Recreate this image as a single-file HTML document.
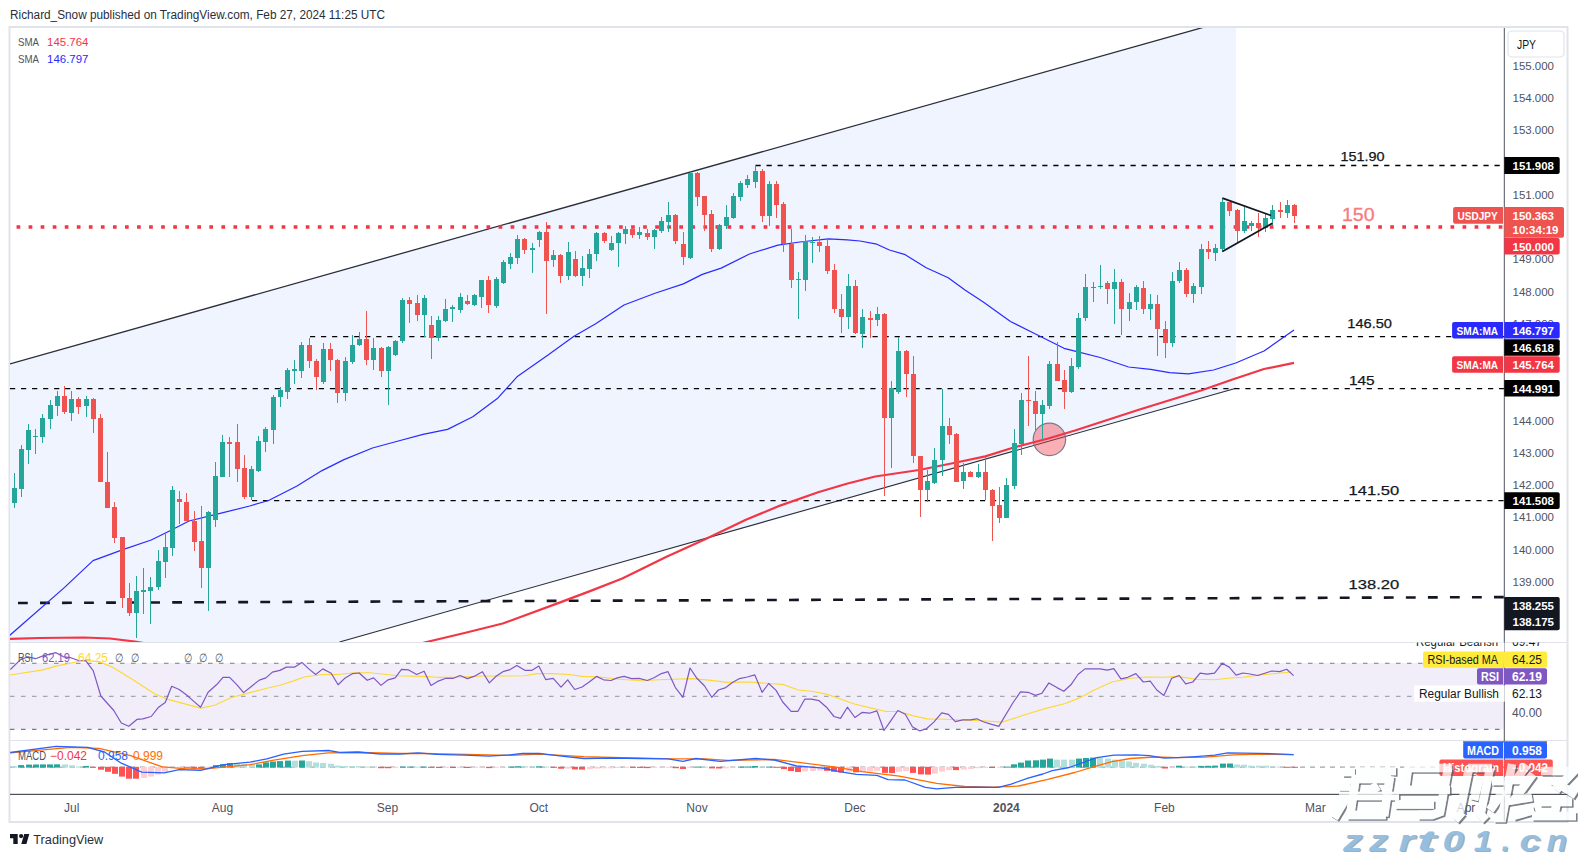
<!DOCTYPE html>
<html><head><meta charset="utf-8"><title>USDJPY chart</title>
<style>
html,body{margin:0;padding:0;background:#ffffff;width:1578px;height:857px;overflow:hidden}
svg{position:absolute;left:0;top:0;display:block}
text{font-family:"Liberation Sans", sans-serif}
</style></head><body>
<svg width="1578" height="857" viewBox="0 0 1578 857">
<defs>
<clipPath id="mainclip"><rect x="10" y="28" width="1494" height="614"/></clipPath>
<clipPath id="rsiclip"><rect x="10" y="643" width="1494" height="97"/></clipPath>
<clipPath id="macdclip"><rect x="10" y="741" width="1494" height="53"/></clipPath>
</defs>

<text x="10" y="18.7" font-size="12" fill="#2a2e39" text-anchor="start" font-weight="normal" textLength="375" lengthAdjust="spacingAndGlyphs" >Richard_Snow published on TradingView.com, Feb 27, 2024 11:25 UTC</text>
<rect x="9.5" y="27" width="1558" height="795" fill="none" stroke="#e0e3eb" stroke-width="2"/>
<g clip-path="url(#mainclip)">
<polygon points="10.0,363.9 1204.6,27.0 1236.0,27.0 1236.0,388.2 339.5,642.0 10.0,642.0" fill="#f0f4fe"/>
<line x1="10" y1="363.9" x2="1204.6" y2="27" stroke="#2a2e39" stroke-width="1.3"/>
<line x1="339.5" y1="642" x2="1236" y2="388.2" stroke="#2a2e39" stroke-width="1.1"/>
<line x1="755.5" y1="165.5" x2="1504" y2="165.5" stroke="#000" stroke-width="1.3" stroke-dasharray="5.2 5.83"/>
<line x1="310" y1="336.5" x2="1504" y2="336.5" stroke="#000" stroke-width="1.25" stroke-dasharray="5.2 5.83"/>
<line x1="10" y1="388.5" x2="1504" y2="388.5" stroke="#000" stroke-width="1.25" stroke-dasharray="5.2 5.83"/>
<line x1="252" y1="500.5" x2="1504" y2="500.5" stroke="#000" stroke-width="1.25" stroke-dasharray="5.2 5.83"/>
<line x1="18" y1="603" x2="1504" y2="597.1" stroke="#131722" stroke-width="2.6" stroke-dasharray="9.8 12.23"/>
<line x1="4.5" y1="227" x2="1504" y2="227" stroke="#f23645" stroke-width="3.7" stroke-dasharray="3.7 8.35"/>
<circle cx="1049.4" cy="439.4" r="16.2" fill="#f23645" fill-opacity="0.4" stroke="#787b86" stroke-width="1.2"/>
<polyline points="9.0,639.0 40.0,638.0 84.0,637.5 110.0,638.5 135.0,641.5 160.0,646.0 300.0,665.0 400.0,649.0 426.5,642.0 465.5,632.7 502.7,623.5 559.5,602.6 590.0,591.1 622.3,578.4 666.0,556.9 704.1,539.8 745.9,519.8 780.1,505.6 818.1,492.3 846.7,483.7 875.2,476.5 919.0,470.0 953.8,463.0 985.3,456.4 1013.6,447.5 1048.3,438.5 1075.0,430.5 1105.0,420.7 1138.0,410.0 1201.0,390.5 1232.5,379.5 1264.0,369.0 1294.0,362.8" fill="none" stroke="#f23645" stroke-width="2.2" stroke-linejoin="round"/>
<polyline points="9.0,636.0 64.6,587.4 93.0,560.6 122.9,549.6 151.2,540.0 170.0,530.7 189.0,521.0 215.0,514.7 249.7,506.0 268.6,500.5 297.0,486.0 322.0,470.6 344.0,459.6 372.5,448.0 394.6,442.0 423.0,434.4 447.6,429.4 472.8,416.8 498.0,397.9 517.0,376.8 548.4,354.7 573.6,336.4 595.7,323.8 624.0,305.0 655.0,293.3 683.4,283.9 702.3,274.4 721.2,268.1 749.5,254.0 777.9,245.1 800.0,242.0 828.3,238.8 847.2,239.8 860.0,241.0 876.8,244.2 889.4,250.0 905.2,254.7 926.2,267.8 935.6,272.0 948.2,277.8 965.0,289.9 984.0,302.5 1000.0,314.0 1010.5,321.5 1032.5,332.5 1064.0,348.3 1075.0,351.2 1100.2,357.5 1128.6,367.0 1150.6,369.4 1169.5,372.6 1188.4,373.8 1213.6,370.0 1235.7,363.0 1264.0,351.0 1294.0,330.0" fill="none" stroke="#2a2aff" stroke-width="1.2" stroke-linejoin="round"/>
<rect x="14" y="473.0" width="1" height="35.0" fill="#26a69a"/><rect x="12" y="488.0" width="5" height="15.0" fill="#26a69a"/>
<rect x="21" y="445.0" width="1" height="52.0" fill="#26a69a"/><rect x="19" y="449.0" width="5" height="40.0" fill="#26a69a"/>
<rect x="28" y="424.0" width="1" height="40.0" fill="#26a69a"/><rect x="26" y="430.0" width="5" height="20.0" fill="#26a69a"/>
<rect x="35" y="429.0" width="1" height="25.0" fill="#26a69a"/><rect x="33" y="436.0" width="5" height="1.0" fill="#26a69a"/>
<rect x="42" y="414.0" width="1" height="29.0" fill="#26a69a"/><rect x="40" y="418.0" width="5" height="19.0" fill="#26a69a"/>
<rect x="50" y="400.0" width="1" height="29.0" fill="#26a69a"/><rect x="48" y="405.0" width="5" height="14.0" fill="#26a69a"/>
<rect x="57" y="391.0" width="1" height="25.0" fill="#26a69a"/><rect x="55" y="396.0" width="5" height="10.0" fill="#26a69a"/>
<rect x="64" y="386.0" width="1" height="28.0" fill="#ef5350"/><rect x="62" y="396.0" width="5" height="16.0" fill="#ef5350"/>
<rect x="71" y="391.0" width="1" height="30.0" fill="#26a69a"/><rect x="69" y="399.0" width="5" height="14.0" fill="#26a69a"/>
<rect x="78" y="397.0" width="1" height="17.0" fill="#ef5350"/><rect x="76" y="399.0" width="5" height="8.0" fill="#ef5350"/>
<rect x="86" y="396.0" width="1" height="21.0" fill="#26a69a"/><rect x="84" y="399.0" width="5" height="7.0" fill="#26a69a"/>
<rect x="93" y="398.0" width="1" height="35.0" fill="#ef5350"/><rect x="91" y="399.0" width="5" height="20.0" fill="#ef5350"/>
<rect x="100" y="414.0" width="1" height="68.0" fill="#ef5350"/><rect x="98" y="418.0" width="5" height="64.0" fill="#ef5350"/>
<rect x="107" y="452.0" width="1" height="56.0" fill="#ef5350"/><rect x="105" y="482.0" width="5" height="26.0" fill="#ef5350"/>
<rect x="114" y="502.0" width="1" height="41.0" fill="#ef5350"/><rect x="112" y="507.0" width="5" height="31.0" fill="#ef5350"/>
<rect x="122" y="537.0" width="1" height="71.0" fill="#ef5350"/><rect x="120" y="537.0" width="5" height="61.0" fill="#ef5350"/>
<rect x="129" y="583.0" width="1" height="33.0" fill="#ef5350"/><rect x="127" y="598.0" width="5" height="15.0" fill="#ef5350"/>
<rect x="136" y="576.0" width="1" height="62.0" fill="#26a69a"/><rect x="134" y="591.0" width="5" height="22.0" fill="#26a69a"/>
<rect x="143" y="568.0" width="1" height="46.0" fill="#26a69a"/><rect x="141" y="590.0" width="5" height="2.0" fill="#26a69a"/>
<rect x="150" y="577.0" width="1" height="47.0" fill="#26a69a"/><rect x="148" y="587.0" width="5" height="4.0" fill="#26a69a"/>
<rect x="158" y="550.0" width="1" height="40.0" fill="#26a69a"/><rect x="156" y="561.0" width="5" height="26.0" fill="#26a69a"/>
<rect x="165" y="534.0" width="1" height="44.0" fill="#26a69a"/><rect x="163" y="547.0" width="5" height="15.0" fill="#26a69a"/>
<rect x="172" y="486.0" width="1" height="70.0" fill="#26a69a"/><rect x="170" y="490.0" width="5" height="58.0" fill="#26a69a"/>
<rect x="179" y="491.0" width="1" height="33.0" fill="#ef5350"/><rect x="177" y="499.0" width="5" height="3.0" fill="#ef5350"/>
<rect x="186" y="493.0" width="1" height="28.0" fill="#ef5350"/><rect x="184" y="502.0" width="5" height="19.0" fill="#ef5350"/>
<rect x="194" y="511.0" width="1" height="40.0" fill="#ef5350"/><rect x="192" y="521.0" width="5" height="21.0" fill="#ef5350"/>
<rect x="201" y="506.0" width="1" height="82.0" fill="#ef5350"/><rect x="199" y="541.0" width="5" height="27.0" fill="#ef5350"/>
<rect x="208" y="511.0" width="1" height="100.0" fill="#26a69a"/><rect x="206" y="512.0" width="5" height="56.0" fill="#26a69a"/>
<rect x="215" y="462.0" width="1" height="65.0" fill="#26a69a"/><rect x="213" y="476.0" width="5" height="44.0" fill="#26a69a"/>
<rect x="222" y="435.0" width="1" height="42.0" fill="#26a69a"/><rect x="220" y="442.0" width="5" height="35.0" fill="#26a69a"/>
<rect x="229" y="437.0" width="1" height="40.0" fill="#ef5350"/><rect x="227" y="442.0" width="5" height="2.0" fill="#ef5350"/>
<rect x="237" y="424.0" width="1" height="58.0" fill="#ef5350"/><rect x="235" y="442.0" width="5" height="27.0" fill="#ef5350"/>
<rect x="244" y="455.0" width="1" height="44.0" fill="#ef5350"/><rect x="242" y="468.0" width="5" height="29.0" fill="#ef5350"/>
<rect x="251" y="466.0" width="1" height="34.0" fill="#26a69a"/><rect x="249" y="469.0" width="5" height="28.0" fill="#26a69a"/>
<rect x="258" y="436.0" width="1" height="36.0" fill="#26a69a"/><rect x="256" y="441.0" width="5" height="30.0" fill="#26a69a"/>
<rect x="265" y="427.0" width="1" height="25.0" fill="#26a69a"/><rect x="263" y="429.0" width="5" height="13.0" fill="#26a69a"/>
<rect x="273" y="395.0" width="1" height="49.0" fill="#26a69a"/><rect x="271" y="397.0" width="5" height="33.0" fill="#26a69a"/>
<rect x="280" y="387.0" width="1" height="20.0" fill="#26a69a"/><rect x="278" y="390.0" width="5" height="7.0" fill="#26a69a"/>
<rect x="287" y="368.0" width="1" height="31.0" fill="#26a69a"/><rect x="285" y="370.0" width="5" height="22.0" fill="#26a69a"/>
<rect x="294" y="360.0" width="1" height="24.0" fill="#26a69a"/><rect x="292" y="369.0" width="5" height="2.0" fill="#26a69a"/>
<rect x="301" y="342.0" width="1" height="36.0" fill="#26a69a"/><rect x="299" y="345.0" width="5" height="26.0" fill="#26a69a"/>
<rect x="309" y="338.0" width="1" height="30.0" fill="#ef5350"/><rect x="307" y="345.0" width="5" height="16.0" fill="#ef5350"/>
<rect x="316" y="359.0" width="1" height="31.0" fill="#ef5350"/><rect x="314" y="361.0" width="5" height="16.0" fill="#ef5350"/>
<rect x="323" y="343.0" width="1" height="41.0" fill="#26a69a"/><rect x="321" y="349.0" width="5" height="33.0" fill="#26a69a"/>
<rect x="330" y="343.0" width="1" height="28.0" fill="#ef5350"/><rect x="328" y="349.0" width="5" height="11.0" fill="#ef5350"/>
<rect x="337" y="359.0" width="1" height="44.0" fill="#ef5350"/><rect x="335" y="360.0" width="5" height="33.0" fill="#ef5350"/>
<rect x="345" y="357.0" width="1" height="44.0" fill="#26a69a"/><rect x="343" y="361.0" width="5" height="32.0" fill="#26a69a"/>
<rect x="352" y="335.0" width="1" height="29.0" fill="#26a69a"/><rect x="350" y="345.0" width="5" height="17.0" fill="#26a69a"/>
<rect x="359" y="332.0" width="1" height="14.0" fill="#26a69a"/><rect x="357" y="339.0" width="5" height="6.0" fill="#26a69a"/>
<rect x="366" y="311.0" width="1" height="54.0" fill="#ef5350"/><rect x="364" y="339.0" width="5" height="21.0" fill="#ef5350"/>
<rect x="373" y="338.0" width="1" height="32.0" fill="#26a69a"/><rect x="371" y="348.0" width="5" height="12.0" fill="#26a69a"/>
<rect x="381" y="347.0" width="1" height="30.0" fill="#ef5350"/><rect x="379" y="348.0" width="5" height="23.0" fill="#ef5350"/>
<rect x="388" y="346.0" width="1" height="59.0" fill="#26a69a"/><rect x="386" y="347.0" width="5" height="24.0" fill="#26a69a"/>
<rect x="395" y="340.0" width="1" height="16.0" fill="#26a69a"/><rect x="393" y="341.0" width="5" height="14.0" fill="#26a69a"/>
<rect x="402" y="298.0" width="1" height="45.0" fill="#26a69a"/><rect x="400" y="300.0" width="5" height="41.0" fill="#26a69a"/>
<rect x="409" y="297.0" width="1" height="26.0" fill="#ef5350"/><rect x="407" y="300.0" width="5" height="4.0" fill="#ef5350"/>
<rect x="417" y="295.0" width="1" height="26.0" fill="#ef5350"/><rect x="415" y="303.0" width="5" height="12.0" fill="#ef5350"/>
<rect x="424" y="295.0" width="1" height="42.0" fill="#26a69a"/><rect x="422" y="298.0" width="5" height="17.0" fill="#26a69a"/>
<rect x="431" y="316.0" width="1" height="43.0" fill="#ef5350"/><rect x="429" y="325.0" width="5" height="13.0" fill="#ef5350"/>
<rect x="438" y="316.0" width="1" height="25.0" fill="#26a69a"/><rect x="436" y="320.0" width="5" height="18.0" fill="#26a69a"/>
<rect x="445" y="299.0" width="1" height="23.0" fill="#26a69a"/><rect x="443" y="309.0" width="5" height="12.0" fill="#26a69a"/>
<rect x="452" y="305.0" width="1" height="17.0" fill="#26a69a"/><rect x="450" y="307.0" width="5" height="2.0" fill="#26a69a"/>
<rect x="460" y="293.0" width="1" height="20.0" fill="#26a69a"/><rect x="458" y="297.0" width="5" height="13.0" fill="#26a69a"/>
<rect x="467" y="295.0" width="1" height="10.0" fill="#ef5350"/><rect x="465" y="301.0" width="5" height="3.0" fill="#ef5350"/>
<rect x="474" y="294.0" width="1" height="12.0" fill="#26a69a"/><rect x="472" y="295.0" width="5" height="10.0" fill="#26a69a"/>
<rect x="481" y="280.0" width="1" height="28.0" fill="#26a69a"/><rect x="479" y="280.0" width="5" height="17.0" fill="#26a69a"/>
<rect x="488" y="276.0" width="1" height="37.0" fill="#ef5350"/><rect x="486" y="280.0" width="5" height="25.0" fill="#ef5350"/>
<rect x="496" y="277.0" width="1" height="31.0" fill="#26a69a"/><rect x="494" y="279.0" width="5" height="27.0" fill="#26a69a"/>
<rect x="503" y="260.0" width="1" height="24.0" fill="#26a69a"/><rect x="501" y="262.0" width="5" height="21.0" fill="#26a69a"/>
<rect x="510" y="253.0" width="1" height="16.0" fill="#26a69a"/><rect x="508" y="257.0" width="5" height="7.0" fill="#26a69a"/>
<rect x="517" y="235.0" width="1" height="29.0" fill="#26a69a"/><rect x="515" y="239.0" width="5" height="19.0" fill="#26a69a"/>
<rect x="524" y="238.0" width="1" height="16.0" fill="#ef5350"/><rect x="522" y="239.0" width="5" height="11.0" fill="#ef5350"/>
<rect x="532" y="243.0" width="1" height="30.0" fill="#26a69a"/><rect x="530" y="248.0" width="5" height="2.0" fill="#26a69a"/>
<rect x="539" y="231.0" width="1" height="16.0" fill="#26a69a"/><rect x="537" y="232.0" width="5" height="8.0" fill="#26a69a"/>
<rect x="546" y="222.0" width="1" height="92.0" fill="#ef5350"/><rect x="544" y="232.0" width="5" height="29.0" fill="#ef5350"/>
<rect x="553" y="250.0" width="1" height="17.0" fill="#26a69a"/><rect x="551" y="255.0" width="5" height="5.0" fill="#26a69a"/>
<rect x="560" y="254.0" width="1" height="29.0" fill="#ef5350"/><rect x="558" y="255.0" width="5" height="21.0" fill="#ef5350"/>
<rect x="568" y="242.0" width="1" height="38.0" fill="#26a69a"/><rect x="566" y="252.0" width="5" height="24.0" fill="#26a69a"/>
<rect x="575" y="251.0" width="1" height="26.0" fill="#ef5350"/><rect x="573" y="259.0" width="5" height="17.0" fill="#ef5350"/>
<rect x="582" y="256.0" width="1" height="30.0" fill="#26a69a"/><rect x="580" y="268.0" width="5" height="8.0" fill="#26a69a"/>
<rect x="589" y="249.0" width="1" height="29.0" fill="#26a69a"/><rect x="587" y="254.0" width="5" height="15.0" fill="#26a69a"/>
<rect x="596" y="232.0" width="1" height="29.0" fill="#26a69a"/><rect x="594" y="233.0" width="5" height="21.0" fill="#26a69a"/>
<rect x="604" y="232.0" width="1" height="11.0" fill="#ef5350"/><rect x="602" y="233.0" width="5" height="8.0" fill="#ef5350"/>
<rect x="611" y="236.0" width="1" height="15.0" fill="#26a69a"/><rect x="609" y="243.0" width="5" height="7.0" fill="#26a69a"/>
<rect x="618" y="232.0" width="1" height="35.0" fill="#26a69a"/><rect x="616" y="233.0" width="5" height="10.0" fill="#26a69a"/>
<rect x="625" y="226.0" width="1" height="18.0" fill="#26a69a"/><rect x="623" y="229.0" width="5" height="5.0" fill="#26a69a"/>
<rect x="632" y="228.0" width="1" height="10.0" fill="#ef5350"/><rect x="630" y="229.0" width="5" height="6.0" fill="#ef5350"/>
<rect x="639" y="227.0" width="1" height="12.0" fill="#26a69a"/><rect x="637" y="232.0" width="5" height="3.0" fill="#26a69a"/>
<rect x="647" y="229.0" width="1" height="11.0" fill="#ef5350"/><rect x="645" y="233.0" width="5" height="4.0" fill="#ef5350"/>
<rect x="654" y="229.0" width="1" height="20.0" fill="#26a69a"/><rect x="652" y="230.0" width="5" height="7.0" fill="#26a69a"/>
<rect x="661" y="217.0" width="1" height="16.0" fill="#26a69a"/><rect x="659" y="221.0" width="5" height="10.0" fill="#26a69a"/>
<rect x="668" y="202.0" width="1" height="30.0" fill="#26a69a"/><rect x="666" y="215.0" width="5" height="7.0" fill="#26a69a"/>
<rect x="675" y="214.0" width="1" height="30.0" fill="#ef5350"/><rect x="673" y="215.0" width="5" height="26.0" fill="#ef5350"/>
<rect x="683" y="232.0" width="1" height="33.0" fill="#ef5350"/><rect x="681" y="244.0" width="5" height="13.0" fill="#ef5350"/>
<rect x="690" y="172.0" width="1" height="87.0" fill="#26a69a"/><rect x="688" y="173.0" width="5" height="85.0" fill="#26a69a"/>
<rect x="697" y="172.0" width="1" height="34.0" fill="#ef5350"/><rect x="695" y="173.0" width="5" height="24.0" fill="#ef5350"/>
<rect x="704" y="196.0" width="1" height="35.0" fill="#ef5350"/><rect x="702" y="196.0" width="5" height="19.0" fill="#ef5350"/>
<rect x="711" y="210.0" width="1" height="42.0" fill="#ef5350"/><rect x="709" y="214.0" width="5" height="35.0" fill="#ef5350"/>
<rect x="719" y="224.0" width="1" height="26.0" fill="#26a69a"/><rect x="717" y="225.0" width="5" height="24.0" fill="#26a69a"/>
<rect x="726" y="205.0" width="1" height="24.0" fill="#26a69a"/><rect x="724" y="217.0" width="5" height="9.0" fill="#26a69a"/>
<rect x="733" y="193.0" width="1" height="26.0" fill="#26a69a"/><rect x="731" y="196.0" width="5" height="22.0" fill="#26a69a"/>
<rect x="740" y="181.0" width="1" height="20.0" fill="#26a69a"/><rect x="738" y="183.0" width="5" height="14.0" fill="#26a69a"/>
<rect x="747" y="175.0" width="1" height="13.0" fill="#26a69a"/><rect x="745" y="179.0" width="5" height="6.0" fill="#26a69a"/>
<rect x="755" y="165.0" width="1" height="23.0" fill="#26a69a"/><rect x="753" y="171.0" width="5" height="11.0" fill="#26a69a"/>
<rect x="762" y="169.0" width="1" height="53.0" fill="#ef5350"/><rect x="760" y="171.0" width="5" height="45.0" fill="#ef5350"/>
<rect x="769" y="181.0" width="1" height="45.0" fill="#26a69a"/><rect x="767" y="184.0" width="5" height="32.0" fill="#26a69a"/>
<rect x="776" y="181.0" width="1" height="37.0" fill="#ef5350"/><rect x="774" y="184.0" width="5" height="21.0" fill="#ef5350"/>
<rect x="783" y="202.0" width="1" height="50.0" fill="#ef5350"/><rect x="781" y="204.0" width="5" height="40.0" fill="#ef5350"/>
<rect x="791" y="229.0" width="1" height="59.0" fill="#ef5350"/><rect x="789" y="244.0" width="5" height="36.0" fill="#ef5350"/>
<rect x="798" y="272.0" width="1" height="47.0" fill="#26a69a"/><rect x="796" y="279.0" width="5" height="1.0" fill="#26a69a"/>
<rect x="805" y="235.0" width="1" height="56.0" fill="#26a69a"/><rect x="803" y="241.0" width="5" height="39.0" fill="#26a69a"/>
<rect x="812" y="237.0" width="1" height="26.0" fill="#26a69a"/><rect x="810" y="242.0" width="5" height="1.0" fill="#26a69a"/>
<rect x="819" y="236.0" width="1" height="16.0" fill="#ef5350"/><rect x="817" y="242.0" width="5" height="4.0" fill="#ef5350"/>
<rect x="827" y="238.0" width="1" height="36.0" fill="#ef5350"/><rect x="825" y="246.0" width="5" height="25.0" fill="#ef5350"/>
<rect x="834" y="264.0" width="1" height="49.0" fill="#ef5350"/><rect x="832" y="270.0" width="5" height="39.0" fill="#ef5350"/>
<rect x="841" y="294.0" width="1" height="39.0" fill="#ef5350"/><rect x="839" y="309.0" width="5" height="8.0" fill="#ef5350"/>
<rect x="848" y="274.0" width="1" height="55.0" fill="#26a69a"/><rect x="846" y="286.0" width="5" height="31.0" fill="#26a69a"/>
<rect x="855" y="280.0" width="1" height="54.0" fill="#ef5350"/><rect x="853" y="286.0" width="5" height="47.0" fill="#ef5350"/>
<rect x="862" y="309.0" width="1" height="39.0" fill="#26a69a"/><rect x="860" y="317.0" width="5" height="17.0" fill="#26a69a"/>
<rect x="870" y="311.0" width="1" height="27.0" fill="#ef5350"/><rect x="868" y="318.0" width="5" height="2.0" fill="#ef5350"/>
<rect x="877" y="307.0" width="1" height="19.0" fill="#26a69a"/><rect x="875" y="314.0" width="5" height="6.0" fill="#26a69a"/>
<rect x="884" y="313.0" width="1" height="183.0" fill="#ef5350"/><rect x="882" y="314.0" width="5" height="104.0" fill="#ef5350"/>
<rect x="891" y="381.0" width="1" height="87.0" fill="#26a69a"/><rect x="889" y="388.0" width="5" height="30.0" fill="#26a69a"/>
<rect x="898" y="337.0" width="1" height="57.0" fill="#26a69a"/><rect x="896" y="351.0" width="5" height="41.0" fill="#26a69a"/>
<rect x="906" y="350.0" width="1" height="47.0" fill="#ef5350"/><rect x="904" y="351.0" width="5" height="23.0" fill="#ef5350"/>
<rect x="913" y="356.0" width="1" height="107.0" fill="#ef5350"/><rect x="911" y="374.0" width="5" height="82.0" fill="#ef5350"/>
<rect x="920" y="456.0" width="1" height="61.0" fill="#ef5350"/><rect x="918" y="456.0" width="5" height="34.0" fill="#ef5350"/>
<rect x="927" y="470.0" width="1" height="32.0" fill="#26a69a"/><rect x="925" y="481.0" width="5" height="9.0" fill="#26a69a"/>
<rect x="934" y="448.0" width="1" height="36.0" fill="#26a69a"/><rect x="932" y="460.0" width="5" height="23.0" fill="#26a69a"/>
<rect x="942" y="389.0" width="1" height="87.0" fill="#26a69a"/><rect x="940" y="426.0" width="5" height="34.0" fill="#26a69a"/>
<rect x="949" y="418.0" width="1" height="26.0" fill="#ef5350"/><rect x="947" y="426.0" width="5" height="9.0" fill="#ef5350"/>
<rect x="956" y="433.0" width="1" height="49.0" fill="#ef5350"/><rect x="954" y="434.0" width="5" height="48.0" fill="#ef5350"/>
<rect x="963" y="463.0" width="1" height="26.0" fill="#26a69a"/><rect x="961" y="472.0" width="5" height="9.0" fill="#26a69a"/>
<rect x="970" y="471.0" width="1" height="6.0" fill="#ef5350"/><rect x="968" y="472.0" width="5" height="5.0" fill="#ef5350"/>
<rect x="978" y="464.0" width="1" height="14.0" fill="#26a69a"/><rect x="976" y="472.0" width="5" height="5.0" fill="#26a69a"/>
<rect x="985" y="457.0" width="1" height="43.0" fill="#ef5350"/><rect x="983" y="472.0" width="5" height="18.0" fill="#ef5350"/>
<rect x="992" y="489.0" width="1" height="52.0" fill="#ef5350"/><rect x="990" y="490.0" width="5" height="16.0" fill="#ef5350"/>
<rect x="999" y="487.0" width="1" height="36.0" fill="#ef5350"/><rect x="997" y="505.0" width="5" height="13.0" fill="#ef5350"/>
<rect x="1006" y="478.0" width="1" height="40.0" fill="#26a69a"/><rect x="1004" y="485.0" width="5" height="33.0" fill="#26a69a"/>
<rect x="1014" y="429.0" width="1" height="60.0" fill="#26a69a"/><rect x="1012" y="443.0" width="5" height="43.0" fill="#26a69a"/>
<rect x="1021" y="393.0" width="1" height="62.0" fill="#26a69a"/><rect x="1019" y="400.0" width="5" height="44.0" fill="#26a69a"/>
<rect x="1028" y="356.0" width="1" height="70.0" fill="#ef5350"/><rect x="1026" y="400.0" width="5" height="1.0" fill="#ef5350"/>
<rect x="1035" y="391.0" width="1" height="40.0" fill="#ef5350"/><rect x="1033" y="401.0" width="5" height="13.0" fill="#ef5350"/>
<rect x="1042" y="400.0" width="1" height="40.0" fill="#26a69a"/><rect x="1040" y="405.0" width="5" height="9.0" fill="#26a69a"/>
<rect x="1049" y="361.0" width="1" height="48.0" fill="#26a69a"/><rect x="1047" y="364.0" width="5" height="42.0" fill="#26a69a"/>
<rect x="1057" y="342.0" width="1" height="39.0" fill="#ef5350"/><rect x="1055" y="364.0" width="5" height="17.0" fill="#ef5350"/>
<rect x="1064" y="370.0" width="1" height="39.0" fill="#ef5350"/><rect x="1062" y="380.0" width="5" height="12.0" fill="#ef5350"/>
<rect x="1071" y="358.0" width="1" height="35.0" fill="#26a69a"/><rect x="1069" y="366.0" width="5" height="26.0" fill="#26a69a"/>
<rect x="1078" y="313.0" width="1" height="56.0" fill="#26a69a"/><rect x="1076" y="318.0" width="5" height="49.0" fill="#26a69a"/>
<rect x="1085" y="274.0" width="1" height="47.0" fill="#26a69a"/><rect x="1083" y="287.0" width="5" height="31.0" fill="#26a69a"/>
<rect x="1093" y="282.0" width="1" height="20.0" fill="#26a69a"/><rect x="1091" y="287.0" width="5" height="1.0" fill="#26a69a"/>
<rect x="1100" y="265.0" width="1" height="24.0" fill="#26a69a"/><rect x="1098" y="286.0" width="5" height="1.0" fill="#26a69a"/>
<rect x="1107" y="281.0" width="1" height="23.0" fill="#ef5350"/><rect x="1105" y="283.0" width="5" height="6.0" fill="#ef5350"/>
<rect x="1114" y="269.0" width="1" height="55.0" fill="#26a69a"/><rect x="1112" y="282.0" width="5" height="7.0" fill="#26a69a"/>
<rect x="1121" y="279.0" width="1" height="56.0" fill="#ef5350"/><rect x="1119" y="282.0" width="5" height="27.0" fill="#ef5350"/>
<rect x="1129" y="293.0" width="1" height="28.0" fill="#26a69a"/><rect x="1127" y="302.0" width="5" height="7.0" fill="#26a69a"/>
<rect x="1136" y="285.0" width="1" height="25.0" fill="#26a69a"/><rect x="1134" y="287.0" width="5" height="15.0" fill="#26a69a"/>
<rect x="1143" y="281.0" width="1" height="33.0" fill="#ef5350"/><rect x="1141" y="288.0" width="5" height="21.0" fill="#ef5350"/>
<rect x="1150" y="294.0" width="1" height="26.0" fill="#26a69a"/><rect x="1148" y="304.0" width="5" height="5.0" fill="#26a69a"/>
<rect x="1157" y="295.0" width="1" height="61.0" fill="#ef5350"/><rect x="1155" y="304.0" width="5" height="25.0" fill="#ef5350"/>
<rect x="1165" y="321.0" width="1" height="37.0" fill="#ef5350"/><rect x="1163" y="329.0" width="5" height="14.0" fill="#ef5350"/>
<rect x="1172" y="272.0" width="1" height="75.0" fill="#26a69a"/><rect x="1170" y="281.0" width="5" height="62.0" fill="#26a69a"/>
<rect x="1179" y="262.0" width="1" height="21.0" fill="#26a69a"/><rect x="1177" y="270.0" width="5" height="11.0" fill="#26a69a"/>
<rect x="1186" y="268.0" width="1" height="29.0" fill="#ef5350"/><rect x="1184" y="270.0" width="5" height="24.0" fill="#ef5350"/>
<rect x="1193" y="283.0" width="1" height="20.0" fill="#26a69a"/><rect x="1191" y="286.0" width="5" height="8.0" fill="#26a69a"/>
<rect x="1201" y="244.0" width="1" height="50.0" fill="#26a69a"/><rect x="1199" y="249.0" width="5" height="38.0" fill="#26a69a"/>
<rect x="1208" y="241.0" width="1" height="18.0" fill="#ef5350"/><rect x="1206" y="249.0" width="5" height="3.0" fill="#ef5350"/>
<rect x="1215" y="244.0" width="1" height="17.0" fill="#26a69a"/><rect x="1213" y="248.0" width="5" height="5.0" fill="#26a69a"/>
<rect x="1222" y="198.0" width="1" height="54.0" fill="#26a69a"/><rect x="1220" y="202.0" width="5" height="47.0" fill="#26a69a"/>
<rect x="1229" y="202.0" width="1" height="14.0" fill="#ef5350"/><rect x="1227" y="202.0" width="5" height="9.0" fill="#ef5350"/>
<rect x="1237" y="209.0" width="1" height="34.0" fill="#ef5350"/><rect x="1235" y="210.0" width="5" height="21.0" fill="#ef5350"/>
<rect x="1244" y="206.0" width="1" height="27.0" fill="#26a69a"/><rect x="1242" y="221.0" width="5" height="10.0" fill="#26a69a"/>
<rect x="1251" y="221.0" width="1" height="10.0" fill="#26a69a"/><rect x="1249" y="223.0" width="5" height="3.0" fill="#26a69a"/>
<rect x="1258" y="213.0" width="1" height="24.0" fill="#ef5350"/><rect x="1256" y="223.0" width="5" height="5.0" fill="#ef5350"/>
<rect x="1265" y="214.0" width="1" height="18.0" fill="#26a69a"/><rect x="1263" y="218.0" width="5" height="10.0" fill="#26a69a"/>
<rect x="1272" y="205.0" width="1" height="21.0" fill="#26a69a"/><rect x="1270" y="210.0" width="5" height="9.0" fill="#26a69a"/>
<rect x="1280" y="202.0" width="1" height="16.0" fill="#ef5350"/><rect x="1278" y="210.0" width="5" height="2.0" fill="#ef5350"/>
<rect x="1287" y="200.0" width="1" height="18.0" fill="#26a69a"/><rect x="1285" y="205.0" width="5" height="8.0" fill="#26a69a"/>
<rect x="1294" y="204.0" width="1" height="19.0" fill="#ef5350"/><rect x="1292" y="205.0" width="5" height="11.0" fill="#ef5350"/>
<line x1="1222.4" y1="198.1" x2="1271" y2="215.5" stroke="#131722" stroke-width="1.8"/>
<line x1="1222.4" y1="251.5" x2="1272.4" y2="223.3" stroke="#131722" stroke-width="1.8"/>
</g>
<text x="1340.5" y="160.5" font-size="12.5" fill="#131722" text-anchor="start" font-weight="normal" textLength="44.1" lengthAdjust="spacingAndGlyphs" stroke="#131722" stroke-width="0.25">151.90</text>
<text x="1342" y="220.7" font-size="19" fill="#f77c80" text-anchor="start" font-weight="normal" textLength="32.6" lengthAdjust="spacingAndGlyphs" stroke="#f77c80" stroke-width="0.35">150</text>
<text x="1347.3" y="327.9" font-size="12.5" fill="#131722" text-anchor="start" font-weight="normal" textLength="44.7" lengthAdjust="spacingAndGlyphs" stroke="#131722" stroke-width="0.25">146.50</text>
<text x="1348.9" y="384.6" font-size="13.5" fill="#131722" text-anchor="start" font-weight="normal" textLength="25.7" lengthAdjust="spacingAndGlyphs" stroke="#131722" stroke-width="0.25">145</text>
<text x="1348.6" y="494.5" font-size="13.5" fill="#131722" text-anchor="start" font-weight="normal" textLength="50.6" lengthAdjust="spacingAndGlyphs" stroke="#131722" stroke-width="0.25">141.50</text>
<text x="1348.6" y="589.3" font-size="13.5" fill="#131722" text-anchor="start" font-weight="normal" textLength="50.6" lengthAdjust="spacingAndGlyphs" stroke="#131722" stroke-width="0.25">138.20</text>
<text x="18" y="45.5" font-size="11.5" fill="#50535e" text-anchor="start" font-weight="normal" textLength="21" lengthAdjust="spacingAndGlyphs" >SMA</text>
<text x="47" y="45.5" font-size="11.5" fill="#f23645" text-anchor="start" font-weight="normal" textLength="41.5" lengthAdjust="spacingAndGlyphs" >145.764</text>
<text x="18" y="62.5" font-size="11.5" fill="#50535e" text-anchor="start" font-weight="normal" textLength="21" lengthAdjust="spacingAndGlyphs" >SMA</text>
<text x="47" y="62.5" font-size="11.5" fill="#2a2aff" text-anchor="start" font-weight="normal" textLength="41.5" lengthAdjust="spacingAndGlyphs" >146.797</text>
<rect x="10" y="642" width="1558" height="1" fill="#e0e3eb"/>
<rect x="10" y="740" width="1558" height="1" fill="#e0e3eb"/>
<g clip-path="url(#rsiclip)">
<rect x="10" y="663" width="1494" height="66.3" fill="#f1eefa"/>
<line x1="10" y1="663.2" x2="1504" y2="663.2" stroke="#787b86" stroke-width="1.15" stroke-dasharray="4.5 6.5"/>
<line x1="10" y1="696.4" x2="1504" y2="696.4" stroke="#a3a6af" stroke-width="1.3" stroke-dasharray="4.5 6.5"/>
<line x1="10" y1="729.3" x2="1504" y2="729.3" stroke="#787b86" stroke-width="1.15" stroke-dasharray="4.5 6.5"/>
<polyline points="10.3,675.0 43.0,669.9 56.0,666.1 78.4,661.5 87.7,660.2 100.8,662.4 112.0,667.0 130.6,678.3 155.0,694.0 168.0,699.4 186.6,704.4 200.6,708.1 214.6,705.3 231.4,697.5 250.0,692.6 266.8,688.2 279.9,685.2 292.9,681.1 304.1,677.0 322.8,674.5 337.7,674.5 354.5,672.7 369.4,672.7 384.4,674.2 397.4,675.8 423.6,676.4 436.6,677.3 455.3,677.3 483.3,676.0 510.0,676.0 524.3,675.8 537.3,673.6 552.3,673.6 569.0,674.5 582.1,676.4 597.0,676.8 619.4,679.2 641.8,680.7 658.6,679.8 673.6,679.2 692.2,678.6 709.0,680.1 727.7,682.4 750.0,682.0 768.7,683.5 782.7,684.4 798.5,690.0 811.6,691.3 826.5,694.1 839.6,698.8 854.5,704.0 871.3,708.1 886.2,711.5 899.3,711.5 912.4,715.6 927.3,718.9 946.0,719.3 964.6,720.3 983.3,720.8 1002.0,722.1 1011.2,719.3 1028.0,713.7 1046.7,708.1 1065.3,703.5 1078.4,698.4 1093.3,690.4 1112.0,682.0 1130.6,678.3 1145.6,677.0 1164.2,677.3 1177.3,676.4 1196.0,679.2 1214.6,679.8 1227.7,678.3 1242.6,677.3 1260.0,674.9 1269.8,674.0 1291.6,672.0" fill="none" stroke="#fdd835" stroke-width="1.15" stroke-linejoin="round"/>
<polyline points="10.3,669.5 20.5,659.6 28.0,656.8 35.5,658.7 43.0,655.9 56.0,652.7 63.5,656.8 70.9,657.7 78.4,660.5 85.9,660.9 93.3,670.8 100.8,696.0 113.8,710.5 121.3,723.0 128.8,726.2 137.2,719.3 142.8,718.8 151.2,716.5 158.6,707.2 165.2,702.5 171.7,686.3 179.2,689.5 186.6,695.0 194.1,701.6 200.6,707.2 208.1,692.3 216.5,684.8 223.0,677.3 229.6,677.3 237.0,684.8 243.6,692.6 251.0,686.7 259.3,680.1 265.9,677.9 272.4,672.1 279.9,670.4 286.4,667.1 294.8,667.1 301.9,662.4 308.8,668.9 315.7,674.5 322.8,668.9 331.2,673.2 338.1,684.8 345.2,677.9 352.7,673.6 359.2,673.0 367.2,680.3 373.6,677.9 381.0,685.4 388.1,679.8 395.2,677.9 401.5,669.3 408.6,669.9 416.7,674.5 424.1,671.2 431.0,685.4 437.6,681.4 446.0,678.3 453.4,678.3 460.0,675.5 467.4,678.6 474.0,676.4 482.4,671.7 489.3,682.9 496.4,676.0 502.9,671.7 509.3,669.9 516.8,665.6 525.2,670.4 531.7,670.4 538.8,666.1 545.7,679.6 553.2,678.3 561.0,687.2 567.7,679.8 574.7,689.5 582.1,687.0 589.2,682.0 596.5,676.4 603.6,679.8 611.0,680.5 617.2,677.9 624.1,676.4 631.6,678.6 639.0,678.3 647.4,680.5 654.0,677.7 661.4,673.6 668.0,671.7 675.4,687.6 682.9,697.3 690.0,668.0 696.9,678.3 704.4,685.7 711.8,697.3 718.4,690.0 725.8,687.6 732.4,682.6 739.5,678.6 747.3,677.0 754.8,674.9 762.1,692.3 768.7,683.5 776.1,690.4 782.7,702.0 791.1,711.3 798.0,711.3 804.7,699.2 811.6,699.2 819.1,700.7 826.5,707.2 834.0,716.5 840.5,718.4 847.4,707.2 854.9,717.5 862.0,712.4 869.4,713.2 876.9,710.9 884.0,730.5 890.9,720.6 897.8,710.5 905.3,714.3 912.4,726.8 919.8,730.9 926.4,728.7 933.8,722.1 941.7,712.8 948.4,714.3 955.3,721.6 962.8,719.9 970.2,719.9 976.8,718.8 983.3,721.7 991.7,724.4 998.8,726.4 1013.1,702.5 1020.5,691.9 1028.0,692.3 1035.5,695.4 1042.0,693.2 1048.9,682.9 1056.9,687.6 1063.8,691.3 1070.9,684.8 1078.0,674.5 1084.9,668.9 1092.4,668.9 1099.9,668.9 1107.3,670.2 1113.8,668.6 1120.9,678.8 1127.8,677.3 1135.9,673.6 1143.3,682.0 1150.2,681.1 1156.8,690.0 1163.9,695.4 1171.7,678.3 1179.2,675.5 1185.7,683.9 1192.8,682.0 1200.1,673.2 1207.2,674.2 1214.6,673.2 1222.1,663.3 1229.2,667.1 1236.1,675.1 1243.0,673.0 1250.1,674.0 1257.6,675.5 1271.8,671.0 1279.7,671.6 1286.7,669.3 1293.6,675.6" fill="none" stroke="#7e57c2" stroke-width="1.2" stroke-linejoin="round"/>
</g>
<text x="18" y="662" font-size="12" fill="#50535e" text-anchor="start" font-weight="normal" textLength="15" lengthAdjust="spacingAndGlyphs" >RSI</text>
<text x="42" y="662" font-size="12" fill="#7e57c2" text-anchor="start" font-weight="normal" textLength="28" lengthAdjust="spacingAndGlyphs" >62.19</text>
<text x="78" y="662" font-size="12" fill="#fdd835" text-anchor="start" font-weight="normal" textLength="30" lengthAdjust="spacingAndGlyphs" >64.25</text>
<text x="115" y="662" font-size="12" fill="#50535e" text-anchor="start" font-weight="normal" textLength="8" lengthAdjust="spacingAndGlyphs" >&#8709;</text>
<text x="130.5" y="662" font-size="12" fill="#50535e" text-anchor="start" font-weight="normal" textLength="8" lengthAdjust="spacingAndGlyphs" >&#8709;</text>
<text x="183.5" y="662" font-size="12" fill="#50535e" text-anchor="start" font-weight="normal" textLength="8" lengthAdjust="spacingAndGlyphs" >&#8709;</text>
<text x="199" y="662" font-size="12" fill="#50535e" text-anchor="start" font-weight="normal" textLength="8" lengthAdjust="spacingAndGlyphs" >&#8709;</text>
<text x="214.5" y="662" font-size="12" fill="#50535e" text-anchor="start" font-weight="normal" textLength="8" lengthAdjust="spacingAndGlyphs" >&#8709;</text>
<g clip-path="url(#macdclip)">
<line x1="10" y1="767.2" x2="1504" y2="767.2" stroke="#9fa2ab" stroke-width="1.2" stroke-dasharray="5 5"/>
<rect x="11" y="766.0" width="6" height="1.6" fill="#b2dfdb"/>
<rect x="18" y="765.1" width="6" height="2.5" fill="#26a69a"/>
<rect x="26" y="764.6" width="6" height="3.0" fill="#26a69a"/>
<rect x="33" y="764.5" width="6" height="3.1" fill="#26a69a"/>
<rect x="40" y="764.4" width="6" height="3.2" fill="#26a69a"/>
<rect x="47" y="764.4" width="6" height="3.2" fill="#26a69a"/>
<rect x="54" y="764.3" width="6" height="3.3" fill="#26a69a"/>
<rect x="62" y="764.4" width="6" height="3.2" fill="#b2dfdb"/>
<rect x="69" y="765.2" width="6" height="2.4" fill="#b2dfdb"/>
<rect x="76" y="766.4" width="6" height="1.2" fill="#b2dfdb"/>
<rect x="83" y="766.0" width="6" height="1.6" fill="#26a69a"/>
<rect x="90" y="766.8" width="6" height="1.0" fill="#ff5252"/>
<rect x="98" y="766.8" width="6" height="2.9" fill="#ff5252"/>
<rect x="105" y="766.8" width="6" height="5.0" fill="#ff5252"/>
<rect x="112" y="766.8" width="6" height="7.0" fill="#ff5252"/>
<rect x="119" y="766.8" width="6" height="9.8" fill="#ff5252"/>
<rect x="126" y="766.8" width="6" height="11.9" fill="#ff5252"/>
<rect x="133" y="766.8" width="6" height="11.9" fill="#ff5252"/>
<rect x="141" y="766.8" width="6" height="11.1" fill="#ffcdd2"/>
<rect x="148" y="766.8" width="6" height="9.8" fill="#ffcdd2"/>
<rect x="155" y="766.8" width="6" height="7.8" fill="#ffcdd2"/>
<rect x="162" y="766.8" width="6" height="5.3" fill="#ffcdd2"/>
<rect x="169" y="766.8" width="6" height="1.0" fill="#ffcdd2"/>
<rect x="177" y="766.8" width="6" height="1.0" fill="#ffcdd2"/>
<rect x="184" y="766.8" width="6" height="1.0" fill="#ff5252"/>
<rect x="191" y="766.8" width="6" height="2.0" fill="#ff5252"/>
<rect x="198" y="766.8" width="6" height="2.0" fill="#ff5252"/>
<rect x="205" y="766.8" width="6" height="1.5" fill="#ffcdd2"/>
<rect x="213" y="765.1" width="6" height="2.5" fill="#26a69a"/>
<rect x="220" y="764.2" width="6" height="3.4" fill="#26a69a"/>
<rect x="227" y="763.1" width="6" height="4.5" fill="#26a69a"/>
<rect x="234" y="763.4" width="6" height="4.2" fill="#b2dfdb"/>
<rect x="241" y="764.4" width="6" height="3.2" fill="#b2dfdb"/>
<rect x="249" y="764.7" width="6" height="2.9" fill="#b2dfdb"/>
<rect x="256" y="764.4" width="6" height="3.2" fill="#26a69a"/>
<rect x="263" y="762.3" width="6" height="5.3" fill="#26a69a"/>
<rect x="270" y="761.5" width="6" height="6.1" fill="#26a69a"/>
<rect x="277" y="761.1" width="6" height="6.5" fill="#26a69a"/>
<rect x="285" y="760.6" width="6" height="7.0" fill="#26a69a"/>
<rect x="292" y="760.7" width="6" height="6.9" fill="#b2dfdb"/>
<rect x="299" y="760.5" width="6" height="7.1" fill="#26a69a"/>
<rect x="306" y="761.2" width="6" height="6.4" fill="#b2dfdb"/>
<rect x="313" y="762.5" width="6" height="5.1" fill="#b2dfdb"/>
<rect x="320" y="762.9" width="6" height="4.7" fill="#b2dfdb"/>
<rect x="328" y="763.8" width="6" height="3.8" fill="#b2dfdb"/>
<rect x="335" y="765.6" width="6" height="2.0" fill="#b2dfdb"/>
<rect x="342" y="766.0" width="6" height="1.6" fill="#b2dfdb"/>
<rect x="349" y="766.0" width="6" height="1.6" fill="#b2dfdb"/>
<rect x="356" y="766.1" width="6" height="1.5" fill="#b2dfdb"/>
<rect x="364" y="766.6" width="6" height="1.0" fill="#b2dfdb"/>
<rect x="371" y="766.6" width="6" height="1.0" fill="#b2dfdb"/>
<rect x="378" y="766.8" width="6" height="1.4" fill="#ff5252"/>
<rect x="385" y="766.8" width="6" height="1.4" fill="#ff5252"/>
<rect x="392" y="766.8" width="6" height="1.3" fill="#ffcdd2"/>
<rect x="400" y="766.6" width="6" height="1.0" fill="#26a69a"/>
<rect x="407" y="766.6" width="6" height="1.0" fill="#26a69a"/>
<rect x="414" y="766.6" width="6" height="1.0" fill="#b2dfdb"/>
<rect x="421" y="766.6" width="6" height="1.0" fill="#26a69a"/>
<rect x="428" y="766.8" width="6" height="1.0" fill="#ff5252"/>
<rect x="436" y="766.8" width="6" height="1.2" fill="#ff5252"/>
<rect x="443" y="766.8" width="6" height="1.2" fill="#ffcdd2"/>
<rect x="450" y="766.8" width="6" height="1.2" fill="#ff5252"/>
<rect x="457" y="766.8" width="6" height="1.0" fill="#ffcdd2"/>
<rect x="464" y="766.8" width="6" height="1.2" fill="#ff5252"/>
<rect x="472" y="766.8" width="6" height="1.1" fill="#ffcdd2"/>
<rect x="479" y="766.8" width="6" height="1.0" fill="#ffcdd2"/>
<rect x="486" y="766.8" width="6" height="1.3" fill="#ff5252"/>
<rect x="493" y="766.8" width="6" height="1.0" fill="#ffcdd2"/>
<rect x="500" y="766.8" width="6" height="1.0" fill="#ffcdd2"/>
<rect x="508" y="766.6" width="6" height="1.0" fill="#26a69a"/>
<rect x="515" y="766.2" width="6" height="1.4" fill="#26a69a"/>
<rect x="522" y="766.3" width="6" height="1.3" fill="#b2dfdb"/>
<rect x="529" y="766.5" width="6" height="1.1" fill="#b2dfdb"/>
<rect x="536" y="766.3" width="6" height="1.3" fill="#26a69a"/>
<rect x="543" y="766.6" width="6" height="1.0" fill="#b2dfdb"/>
<rect x="551" y="766.8" width="6" height="1.0" fill="#ff5252"/>
<rect x="558" y="766.8" width="6" height="1.9" fill="#ff5252"/>
<rect x="565" y="766.8" width="6" height="1.9" fill="#ffcdd2"/>
<rect x="572" y="766.8" width="6" height="2.6" fill="#ff5252"/>
<rect x="579" y="766.8" width="6" height="2.8" fill="#ff5252"/>
<rect x="587" y="766.8" width="6" height="2.5" fill="#ffcdd2"/>
<rect x="594" y="766.8" width="6" height="1.8" fill="#ffcdd2"/>
<rect x="601" y="766.8" width="6" height="1.5" fill="#ffcdd2"/>
<rect x="608" y="766.8" width="6" height="1.5" fill="#ffcdd2"/>
<rect x="615" y="766.8" width="6" height="1.2" fill="#ffcdd2"/>
<rect x="623" y="766.8" width="6" height="1.0" fill="#ffcdd2"/>
<rect x="630" y="766.8" width="6" height="1.0" fill="#ff5252"/>
<rect x="637" y="766.8" width="6" height="1.1" fill="#ff5252"/>
<rect x="644" y="766.8" width="6" height="1.3" fill="#ff5252"/>
<rect x="651" y="766.8" width="6" height="1.2" fill="#ffcdd2"/>
<rect x="659" y="766.8" width="6" height="1.0" fill="#ffcdd2"/>
<rect x="666" y="766.8" width="6" height="1.0" fill="#ffcdd2"/>
<rect x="673" y="766.8" width="6" height="1.4" fill="#ff5252"/>
<rect x="680" y="766.8" width="6" height="2.2" fill="#ff5252"/>
<rect x="687" y="766.8" width="6" height="1.0" fill="#ffcdd2"/>
<rect x="695" y="766.6" width="6" height="1.0" fill="#26a69a"/>
<rect x="702" y="766.6" width="6" height="1.0" fill="#b2dfdb"/>
<rect x="709" y="766.8" width="6" height="1.6" fill="#ff5252"/>
<rect x="716" y="766.8" width="6" height="1.7" fill="#ff5252"/>
<rect x="723" y="766.8" width="6" height="1.6" fill="#ffcdd2"/>
<rect x="730" y="766.8" width="6" height="1.0" fill="#ffcdd2"/>
<rect x="738" y="766.6" width="6" height="1.0" fill="#26a69a"/>
<rect x="745" y="766.5" width="6" height="1.1" fill="#26a69a"/>
<rect x="752" y="766.0" width="6" height="1.6" fill="#26a69a"/>
<rect x="759" y="766.6" width="6" height="1.0" fill="#b2dfdb"/>
<rect x="766" y="766.6" width="6" height="1.0" fill="#26a69a"/>
<rect x="774" y="766.8" width="6" height="1.0" fill="#ff5252"/>
<rect x="781" y="766.8" width="6" height="2.3" fill="#ff5252"/>
<rect x="788" y="766.8" width="6" height="4.2" fill="#ff5252"/>
<rect x="795" y="766.8" width="6" height="5.2" fill="#ff5252"/>
<rect x="802" y="766.8" width="6" height="4.6" fill="#ffcdd2"/>
<rect x="810" y="766.8" width="6" height="4.1" fill="#ffcdd2"/>
<rect x="817" y="766.8" width="6" height="3.7" fill="#ffcdd2"/>
<rect x="824" y="766.8" width="6" height="4.0" fill="#ff5252"/>
<rect x="831" y="766.8" width="6" height="5.0" fill="#ff5252"/>
<rect x="838" y="766.8" width="6" height="5.7" fill="#ff5252"/>
<rect x="846" y="766.8" width="6" height="4.9" fill="#ffcdd2"/>
<rect x="853" y="766.8" width="6" height="5.5" fill="#ff5252"/>
<rect x="860" y="766.8" width="6" height="5.1" fill="#ffcdd2"/>
<rect x="867" y="766.8" width="6" height="4.7" fill="#ffcdd2"/>
<rect x="874" y="766.8" width="6" height="4.0" fill="#ffcdd2"/>
<rect x="882" y="766.8" width="6" height="6.1" fill="#ff5252"/>
<rect x="889" y="766.8" width="6" height="6.3" fill="#ff5252"/>
<rect x="896" y="766.8" width="6" height="5.0" fill="#ffcdd2"/>
<rect x="903" y="766.8" width="6" height="4.4" fill="#ffcdd2"/>
<rect x="910" y="766.8" width="6" height="6.1" fill="#ff5252"/>
<rect x="918" y="766.8" width="6" height="7.6" fill="#ff5252"/>
<rect x="925" y="766.8" width="6" height="7.8" fill="#ff5252"/>
<rect x="932" y="766.8" width="6" height="6.8" fill="#ffcdd2"/>
<rect x="939" y="766.8" width="6" height="4.7" fill="#ffcdd2"/>
<rect x="946" y="766.8" width="6" height="3.3" fill="#ffcdd2"/>
<rect x="953" y="766.8" width="6" height="3.3" fill="#ff5252"/>
<rect x="961" y="766.8" width="6" height="2.8" fill="#ffcdd2"/>
<rect x="968" y="766.8" width="6" height="2.2" fill="#ffcdd2"/>
<rect x="975" y="766.8" width="6" height="1.4" fill="#ffcdd2"/>
<rect x="982" y="766.8" width="6" height="1.2" fill="#ffcdd2"/>
<rect x="989" y="766.8" width="6" height="1.2" fill="#ff5252"/>
<rect x="997" y="766.8" width="6" height="1.0" fill="#ffcdd2"/>
<rect x="1004" y="766.6" width="6" height="1.0" fill="#26a69a"/>
<rect x="1011" y="764.3" width="6" height="3.3" fill="#26a69a"/>
<rect x="1018" y="762.6" width="6" height="5.0" fill="#26a69a"/>
<rect x="1025" y="760.5" width="6" height="7.1" fill="#26a69a"/>
<rect x="1033" y="760.3" width="6" height="7.3" fill="#26a69a"/>
<rect x="1040" y="759.6" width="6" height="8.0" fill="#26a69a"/>
<rect x="1047" y="758.6" width="6" height="9.0" fill="#26a69a"/>
<rect x="1054" y="759.6" width="6" height="8.0" fill="#b2dfdb"/>
<rect x="1061" y="759.6" width="6" height="8.0" fill="#b2dfdb"/>
<rect x="1069" y="759.6" width="6" height="8.0" fill="#b2dfdb"/>
<rect x="1076" y="758.6" width="6" height="9.0" fill="#26a69a"/>
<rect x="1083" y="758.0" width="6" height="9.6" fill="#26a69a"/>
<rect x="1090" y="757.6" width="6" height="10.0" fill="#26a69a"/>
<rect x="1097" y="757.7" width="6" height="9.9" fill="#b2dfdb"/>
<rect x="1105" y="758.6" width="6" height="9.0" fill="#b2dfdb"/>
<rect x="1112" y="759.6" width="6" height="8.0" fill="#b2dfdb"/>
<rect x="1119" y="760.5" width="6" height="7.1" fill="#b2dfdb"/>
<rect x="1126" y="761.5" width="6" height="6.1" fill="#b2dfdb"/>
<rect x="1133" y="762.8" width="6" height="4.8" fill="#b2dfdb"/>
<rect x="1141" y="763.8" width="6" height="3.8" fill="#b2dfdb"/>
<rect x="1148" y="764.7" width="6" height="2.9" fill="#b2dfdb"/>
<rect x="1155" y="765.9" width="6" height="1.7" fill="#b2dfdb"/>
<rect x="1162" y="766.8" width="6" height="1.7" fill="#ff5252"/>
<rect x="1169" y="766.8" width="6" height="1.0" fill="#ffcdd2"/>
<rect x="1176" y="765.7" width="6" height="1.9" fill="#26a69a"/>
<rect x="1184" y="766.6" width="6" height="1.0" fill="#b2dfdb"/>
<rect x="1191" y="766.6" width="6" height="1.0" fill="#b2dfdb"/>
<rect x="1198" y="765.9" width="6" height="1.7" fill="#26a69a"/>
<rect x="1205" y="765.8" width="6" height="1.9" fill="#26a69a"/>
<rect x="1212" y="765.6" width="6" height="2.0" fill="#26a69a"/>
<rect x="1220" y="763.6" width="6" height="4.0" fill="#26a69a"/>
<rect x="1227" y="763.5" width="6" height="4.1" fill="#26a69a"/>
<rect x="1234" y="764.5" width="6" height="3.1" fill="#b2dfdb"/>
<rect x="1241" y="764.7" width="6" height="2.9" fill="#b2dfdb"/>
<rect x="1248" y="765.7" width="6" height="1.9" fill="#b2dfdb"/>
<rect x="1256" y="765.7" width="6" height="1.9" fill="#b2dfdb"/>
<rect x="1263" y="765.7" width="6" height="1.9" fill="#b2dfdb"/>
<rect x="1270" y="766.6" width="6" height="1.0" fill="#b2dfdb"/>
<rect x="1277" y="766.6" width="6" height="1.0" fill="#b2dfdb"/>
<rect x="1284" y="766.8" width="6" height="1.0" fill="#ff5252"/>
<rect x="1292" y="766.8" width="6" height="1.0" fill="#ff5252"/>
<polyline points="10.3,752.9 70.9,747.3 98.9,748.3 130.6,755.7 162.4,766.9 186.6,768.8 205.3,768.8 250.0,764.7 272.4,760.4 302.3,755.7 328.4,752.9 362.0,752.5 399.3,753.5 423.6,753.3 455.3,754.2 510.0,755.3 539.2,754.2 584.0,756.6 640.0,758.1 673.6,758.9 705.3,758.9 727.7,760.4 760.0,759.8 774.3,759.4 796.7,762.2 834.0,766.9 862.0,771.6 899.3,776.2 936.6,783.3 964.6,786.5 992.6,787.1 1018.7,786.0 1046.7,779.6 1074.7,772.5 1093.3,766.9 1112.0,761.7 1130.6,758.5 1154.9,757.0 1177.3,757.6 1205.3,757.2 1233.3,754.8 1260.0,754.2 1293.6,754.6" fill="none" stroke="#ff6d00" stroke-width="1.3" stroke-linejoin="round"/>
<polyline points="10.3,752.5 56.0,746.4 87.7,747.3 104.5,752.0 121.3,763.2 141.8,772.1 164.2,772.9 179.2,769.7 200.6,770.3 224.0,764.7 250.0,762.2 266.8,758.9 283.6,754.2 302.3,751.4 328.4,750.5 339.6,752.4 358.2,752.0 380.6,754.2 399.3,754.2 418.0,752.9 436.6,754.4 464.6,755.2 488.9,756.1 510.0,754.8 522.4,753.5 539.2,753.3 561.6,756.1 584.0,758.5 612.0,758.0 640.0,758.5 668.0,758.9 682.9,761.3 696.0,758.5 720.2,761.3 755.7,758.5 774.3,760.0 796.7,766.0 820.9,767.8 839.6,771.6 856.4,774.4 876.9,775.3 888.1,779.6 904.9,780.0 925.4,787.4 936.6,788.8 955.3,787.4 974.0,787.1 998.2,787.4 1011.2,784.1 1028.0,778.1 1042.9,774.0 1052.3,770.6 1069.1,767.5 1084.0,762.2 1097.0,757.6 1113.8,755.2 1136.2,754.8 1149.3,755.7 1164.2,758.1 1177.3,757.6 1196.0,756.6 1214.6,755.2 1227.7,752.9 1260.0,753.3 1293.6,754.6" fill="none" stroke="#2962ff" stroke-width="1.3" stroke-linejoin="round"/>
</g>
<text x="18" y="760" font-size="12" fill="#50535e" text-anchor="start" font-weight="normal" textLength="28" lengthAdjust="spacingAndGlyphs" >MACD</text>
<text x="50" y="760" font-size="12" fill="#f23645" text-anchor="start" font-weight="normal" textLength="37" lengthAdjust="spacingAndGlyphs" >&#8722;0.042</text>
<text x="98" y="760" font-size="12" fill="#2962ff" text-anchor="start" font-weight="normal" textLength="30" lengthAdjust="spacingAndGlyphs" >0.958</text>
<text x="133" y="760" font-size="12" fill="#ff6d00" text-anchor="start" font-weight="normal" textLength="30" lengthAdjust="spacingAndGlyphs" >0.999</text>
<rect x="10" y="793.8" width="1558" height="1.1" fill="#3d404a"/>
<text x="71.7" y="812" font-size="12" fill="#50535e" text-anchor="middle" font-weight="normal" >Jul</text>
<text x="222.5" y="812" font-size="12" fill="#50535e" text-anchor="middle" font-weight="normal" >Aug</text>
<text x="387.5" y="812" font-size="12" fill="#50535e" text-anchor="middle" font-weight="normal" >Sep</text>
<text x="538.8" y="812" font-size="12" fill="#50535e" text-anchor="middle" font-weight="normal" >Oct</text>
<text x="697" y="812" font-size="12" fill="#50535e" text-anchor="middle" font-weight="normal" >Nov</text>
<text x="854.9" y="812" font-size="12" fill="#50535e" text-anchor="middle" font-weight="normal" >Dec</text>
<text x="1006.4" y="812" font-size="12" fill="#50535e" text-anchor="middle" font-weight="bold" >2024</text>
<text x="1164.4" y="812" font-size="12" fill="#50535e" text-anchor="middle" font-weight="normal" >Feb</text>
<text x="1315.4" y="812" font-size="12" fill="#50535e" text-anchor="middle" font-weight="normal" >Mar</text>
<text x="1466" y="812" font-size="12" fill="#50535e" text-anchor="middle" font-weight="normal" >Apr</text>
<rect x="1503.8" y="28" width="1" height="793" fill="#50535e"/>
<rect x="1508" y="31" width="56" height="26" rx="4" fill="#fff" stroke="#e0e3eb" stroke-width="1.2"/>
<text x="1517" y="49" font-size="12" fill="#131722" text-anchor="start" font-weight="normal" textLength="19" lengthAdjust="spacingAndGlyphs" >JPY</text>
<text x="1512.5" y="69.89999999999999" font-size="11.5" fill="#50535e" text-anchor="start" font-weight="normal" textLength="41.5" lengthAdjust="spacingAndGlyphs" >155.000</text>
<text x="1512.5" y="102.14999999999999" font-size="11.5" fill="#50535e" text-anchor="start" font-weight="normal" textLength="41.5" lengthAdjust="spacingAndGlyphs" >154.000</text>
<text x="1512.5" y="134.4" font-size="11.5" fill="#50535e" text-anchor="start" font-weight="normal" textLength="41.5" lengthAdjust="spacingAndGlyphs" >153.000</text>
<text x="1512.5" y="198.9" font-size="11.5" fill="#50535e" text-anchor="start" font-weight="normal" textLength="41.5" lengthAdjust="spacingAndGlyphs" >151.000</text>
<text x="1512.5" y="263.40000000000003" font-size="11.5" fill="#50535e" text-anchor="start" font-weight="normal" textLength="41.5" lengthAdjust="spacingAndGlyphs" >149.000</text>
<text x="1512.5" y="295.65000000000003" font-size="11.5" fill="#50535e" text-anchor="start" font-weight="normal" textLength="41.5" lengthAdjust="spacingAndGlyphs" >148.000</text>
<text x="1512.5" y="327.90000000000003" font-size="11.5" fill="#50535e" text-anchor="start" font-weight="normal" textLength="41.5" lengthAdjust="spacingAndGlyphs" >147.000</text>
<text x="1512.5" y="424.65000000000003" font-size="11.5" fill="#50535e" text-anchor="start" font-weight="normal" textLength="41.5" lengthAdjust="spacingAndGlyphs" >144.000</text>
<text x="1512.5" y="456.90000000000003" font-size="11.5" fill="#50535e" text-anchor="start" font-weight="normal" textLength="41.5" lengthAdjust="spacingAndGlyphs" >143.000</text>
<text x="1512.5" y="489.15000000000003" font-size="11.5" fill="#50535e" text-anchor="start" font-weight="normal" textLength="41.5" lengthAdjust="spacingAndGlyphs" >142.000</text>
<text x="1512.5" y="521.4" font-size="11.5" fill="#50535e" text-anchor="start" font-weight="normal" textLength="41.5" lengthAdjust="spacingAndGlyphs" >141.000</text>
<text x="1512.5" y="553.65" font-size="11.5" fill="#50535e" text-anchor="start" font-weight="normal" textLength="41.5" lengthAdjust="spacingAndGlyphs" >140.000</text>
<text x="1512.5" y="585.9" font-size="11.5" fill="#50535e" text-anchor="start" font-weight="normal" textLength="41.5" lengthAdjust="spacingAndGlyphs" >139.000</text>
<path d="M1504.3 157 H1557.7 Q1559.7 157 1559.7 159 V172 Q1559.7 174 1557.7 174 H1504.3 Z" fill="#000"/>
<text x="1512.5" y="169.7" font-size="11.5" fill="#fff" text-anchor="start" font-weight="bold" textLength="41.5" lengthAdjust="spacingAndGlyphs" >151.908</text>
<path d="M1504.3 207 H1562 Q1564 207 1564 209 V235.8 Q1564 237.8 1562 237.8 H1504.3 Z" fill="#ef5350"/>
<text x="1512.5" y="219.8" font-size="11.5" fill="#fff" text-anchor="start" font-weight="bold" textLength="41.5" lengthAdjust="spacingAndGlyphs" >150.363</text>
<text x="1512.5" y="234" font-size="11.5" fill="#fff" text-anchor="start" font-weight="bold" textLength="46" lengthAdjust="spacingAndGlyphs" >10:34:19</text>
<path d="M1455.1 207 H1503 V223.8 H1455.1 Q1453.1 223.8 1453.1 221.8 V209 Q1453.1 207 1455.1 207 Z" fill="#ef5350"/>
<text x="1457.6" y="219.6" font-size="11.5" fill="#fff" text-anchor="start" font-weight="bold" textLength="40" lengthAdjust="spacingAndGlyphs" >USDJPY</text>
<path d="M1504.3 238.1 H1557.7 Q1559.7 238.1 1559.7 240.1 V252.6 Q1559.7 254.6 1557.7 254.6 H1504.3 Z" fill="#f23645"/>
<text x="1512.5" y="250.54999999999998" font-size="11.5" fill="#fff" text-anchor="start" font-weight="bold" textLength="41.5" lengthAdjust="spacingAndGlyphs" >150.000</text>
<path d="M1504.3 322.1 H1557.7 Q1559.7 322.1 1559.7 324.1 V336.6 Q1559.7 338.6 1557.7 338.6 H1504.3 Z" fill="#2a2aff"/>
<text x="1512.5" y="334.55" font-size="11.5" fill="#fff" text-anchor="start" font-weight="bold" textLength="41.5" lengthAdjust="spacingAndGlyphs" >146.797</text>
<path d="M1454.1 322.1 H1503 V338.6 H1454.1 Q1452.1 338.6 1452.1 336.6 V324.1 Q1452.1 322.1 1454.1 322.1 Z" fill="#2a2aff"/>
<text x="1456.6" y="334.55" font-size="11.5" fill="#fff" text-anchor="start" font-weight="bold" textLength="41.5" lengthAdjust="spacingAndGlyphs" >SMA:MA</text>
<path d="M1504.3 339.2 H1557.7 Q1559.7 339.2 1559.7 341.2 V353.7 Q1559.7 355.7 1557.7 355.7 H1504.3 Z" fill="#000"/>
<text x="1512.5" y="351.65" font-size="11.5" fill="#fff" text-anchor="start" font-weight="bold" textLength="41.5" lengthAdjust="spacingAndGlyphs" >146.618</text>
<path d="M1504.3 356.2 H1557.7 Q1559.7 356.2 1559.7 358.2 V370.8 Q1559.7 372.8 1557.7 372.8 H1504.3 Z" fill="#f23645"/>
<text x="1512.5" y="368.7" font-size="11.5" fill="#fff" text-anchor="start" font-weight="bold" textLength="41.5" lengthAdjust="spacingAndGlyphs" >145.764</text>
<path d="M1454.1 356.2 H1503 V372.8 H1454.1 Q1452.1 372.8 1452.1 370.8 V358.2 Q1452.1 356.2 1454.1 356.2 Z" fill="#f23645"/>
<text x="1456.6" y="368.7" font-size="11.5" fill="#fff" text-anchor="start" font-weight="bold" textLength="41.5" lengthAdjust="spacingAndGlyphs" >SMA:MA</text>
<path d="M1504.3 380.1 H1557.7 Q1559.7 380.1 1559.7 382.1 V394.6 Q1559.7 396.6 1557.7 396.6 H1504.3 Z" fill="#000"/>
<text x="1512.5" y="392.55" font-size="11.5" fill="#fff" text-anchor="start" font-weight="bold" textLength="41.5" lengthAdjust="spacingAndGlyphs" >144.991</text>
<path d="M1504.3 492.3 H1557.7 Q1559.7 492.3 1559.7 494.3 V507 Q1559.7 509 1557.7 509 H1504.3 Z" fill="#000"/>
<text x="1512.5" y="504.84999999999997" font-size="11.5" fill="#fff" text-anchor="start" font-weight="bold" textLength="41.5" lengthAdjust="spacingAndGlyphs" >141.508</text>
<path d="M1504.3 597 H1557.7 Q1559.7 597 1559.7 599 V628.3 Q1559.7 630.3 1557.7 630.3 H1504.3 Z" fill="#131722"/>
<text x="1512.5" y="609.5" font-size="11.5" fill="#fff" text-anchor="start" font-weight="bold" textLength="41.5" lengthAdjust="spacingAndGlyphs" >138.255</text>
<text x="1512.5" y="626" font-size="11.5" fill="#fff" text-anchor="start" font-weight="bold" textLength="41.5" lengthAdjust="spacingAndGlyphs" >138.175</text>
<clipPath id="bearclip"><rect x="1400" y="642.5" width="160" height="10"/></clipPath>
<rect x="1414" y="642.5" width="90.5" height="9" fill="#fff"/>
<g clip-path="url(#bearclip)">
<text x="1512" y="646" font-size="12" fill="#131722" text-anchor="start" font-weight="normal" textLength="30" lengthAdjust="spacingAndGlyphs" >69.47</text>
<text x="1416" y="646" font-size="12" fill="#131722" text-anchor="start" font-weight="normal" textLength="82" lengthAdjust="spacingAndGlyphs" >Regular Bearish</text>
</g>
<path d="M1425 651.4 H1503 V667.7 H1425 Q1423 667.7 1423 665.7 V653.4 Q1423 651.4 1425 651.4 Z" fill="#ffeb3b"/>
<text x="1427.5" y="663.6" font-size="12" fill="#131722" text-anchor="start" font-weight="normal" textLength="70.5" lengthAdjust="spacingAndGlyphs" >RSI-based MA</text>
<path d="M1504 651.4 H1545 Q1547 651.4 1547 653.4 V665.7 Q1547 667.7 1545 667.7 H1504 Z" fill="#ffeb3b"/>
<text x="1512" y="663.6" font-size="12" fill="#131722" text-anchor="start" font-weight="normal" textLength="30" lengthAdjust="spacingAndGlyphs" >64.25</text>
<path d="M1479 668.3 H1503 V684.6 H1479 Q1477 684.6 1477 682.6 V670.3 Q1477 668.3 1479 668.3 Z" fill="#7e57c2"/>
<text x="1481" y="680.5" font-size="12" fill="#fff" text-anchor="start" font-weight="bold" textLength="18" lengthAdjust="spacingAndGlyphs" >RSI</text>
<path d="M1504 668.3 H1545 Q1547 668.3 1547 670.3 V682.6 Q1547 684.6 1545 684.6 H1504 Z" fill="#7e57c2"/>
<text x="1512" y="680.5" font-size="12" fill="#fff" text-anchor="start" font-weight="bold" textLength="30" lengthAdjust="spacingAndGlyphs" >62.19</text>
<rect x="1414.2" y="685.5" width="90.5" height="16.2" fill="#fff"/>
<text x="1419" y="697.5" font-size="12" fill="#131722" text-anchor="start" font-weight="normal" textLength="80" lengthAdjust="spacingAndGlyphs" >Regular Bullish</text>
<text x="1512" y="697.5" font-size="12" fill="#131722" text-anchor="start" font-weight="normal" textLength="30" lengthAdjust="spacingAndGlyphs" >62.13</text>
<text x="1512" y="716.5" font-size="12" fill="#50535e" text-anchor="start" font-weight="normal" textLength="30" lengthAdjust="spacingAndGlyphs" >40.00</text>
<rect x="1463" y="741" width="84" height="2" fill="#ff6d00"/>
<path d="M1465 742 H1503 V758.5 H1465 Q1463.2 758.5 1463.2 756.5 V744 Q1463.2 742 1465 742 Z" fill="#2962ff"/>
<text x="1467" y="754.5" font-size="12" fill="#fff" text-anchor="start" font-weight="bold" textLength="32" lengthAdjust="spacingAndGlyphs" >MACD</text>
<path d="M1504 742 H1545 Q1547 742 1547 744 V756.5 Q1547 758.5 1545 758.5 H1504 Z" fill="#2962ff"/>
<text x="1512" y="754.5" font-size="12" fill="#fff" text-anchor="start" font-weight="bold" textLength="30" lengthAdjust="spacingAndGlyphs" >0.958</text>
<path d="M1441.4 759.4 H1503 V775.9 H1441.4 Q1439.4 775.9 1439.4 773.9 V761.4 Q1439.4 759.4 1441.4 759.4 Z" fill="#ff5252"/>
<text x="1443" y="771.5" font-size="12" fill="#fff" text-anchor="start" font-weight="bold" textLength="56" lengthAdjust="spacingAndGlyphs" >Histogram</text>
<path d="M1504 759.4 H1550.8 Q1552.8 759.4 1552.8 761.4 V773.9 Q1552.8 775.9 1550.8 775.9 H1504 Z" fill="#ff5252"/>
<text x="1512" y="771.5" font-size="12" fill="#fff" text-anchor="start" font-weight="bold" textLength="36" lengthAdjust="spacingAndGlyphs" >&#8722;0.042</text>
<g fill="#131722"><path d="M10 834 H17.7 V844 H13.3 V838.2 H10 Z"/><circle cx="21.1" cy="836.1" r="2.1"/><path d="M24.2 834 H29.3 L26.4 844 H21.3 Z"/></g>
<text x="33.3" y="844" font-size="13" fill="#2a2e39" text-anchor="start" font-weight="normal" textLength="70" lengthAdjust="spacingAndGlyphs" >TradingView</text>
<mask id="wmmask" maskUnits="userSpaceOnUse" x="1300" y="740" width="278" height="100"><rect x="1300" y="740" width="278" height="100" fill="#fff"/><g fill="none" stroke="#000" stroke-width="8.5" stroke-linecap="butt" stroke-linejoin="miter"><polyline points="1342.5,772.0 1355.0,772.0"/><polyline points="1338.5,786.5 1350.0,786.5"/><polyline points="1334.0,818.0 1346.0,798.0"/><polyline points="1356.0,771.0 1396.0,771.0"/><polyline points="1356.0,776.0 1350.0,816.0"/><polyline points="1390.0,776.0 1384.0,816.0"/><polyline points="1353.0,779.0 1391.0,779.0"/><polyline points="1339.0,796.0 1399.0,796.0"/><polyline points="1347.0,815.0 1386.0,815.0"/><polyline points="1372.0,784.0 1377.0,792.0"/><polyline points="1404.0,768.0 1452.0,768.0"/><polyline points="1408.0,768.0 1405.0,790.0"/><polyline points="1398.0,790.0 1450.0,790.0"/><polyline points="1448.0,768.0 1440.0,812.0 1432.0,815.0 1418.0,815.0"/><polyline points="1395.0,804.5 1434.0,804.5"/><polyline points="1469.0,768.0 1460.0,812.0"/><polyline points="1468.0,768.0 1492.0,768.0"/><polyline points="1490.0,768.0 1481.0,812.0"/><polyline points="1480.0,776.0 1474.0,800.0"/><polyline points="1462.0,812.0 1455.0,820.0"/><polyline points="1478.0,812.0 1486.0,820.0"/><polyline points="1492.0,781.0 1512.0,781.0"/><polyline points="1512.0,764.0 1502.0,818.0 1494.0,818.0"/><polyline points="1504.0,790.0 1490.0,810.0"/><polyline points="1527.0,765.0 1516.0,780.0 1528.0,780.0"/><polyline points="1533.0,774.0 1514.0,800.0 1532.0,797.0"/><polyline points="1513.0,816.0 1534.0,810.0"/><polyline points="1541.0,771.0 1574.0,771.0 1556.0,790.0"/><polyline points="1552.0,780.0 1576.0,795.0"/><polyline points="1540.0,802.0 1572.0,802.0"/><polyline points="1557.0,802.0 1554.0,816.0"/><polyline points="1532.0,816.0 1576.0,816.0"/></g></mask><g mask="url(#wmmask)"><g transform="translate(1.6,1.6)" fill="none" stroke="#5d606b" stroke-opacity="0.8" stroke-width="8.5" stroke-linecap="butt" stroke-linejoin="miter"><polyline points="1342.5,772.0 1355.0,772.0"/><polyline points="1338.5,786.5 1350.0,786.5"/><polyline points="1334.0,818.0 1346.0,798.0"/><polyline points="1356.0,771.0 1396.0,771.0"/><polyline points="1356.0,776.0 1350.0,816.0"/><polyline points="1390.0,776.0 1384.0,816.0"/><polyline points="1353.0,779.0 1391.0,779.0"/><polyline points="1339.0,796.0 1399.0,796.0"/><polyline points="1347.0,815.0 1386.0,815.0"/><polyline points="1372.0,784.0 1377.0,792.0"/><polyline points="1404.0,768.0 1452.0,768.0"/><polyline points="1408.0,768.0 1405.0,790.0"/><polyline points="1398.0,790.0 1450.0,790.0"/><polyline points="1448.0,768.0 1440.0,812.0 1432.0,815.0 1418.0,815.0"/><polyline points="1395.0,804.5 1434.0,804.5"/><polyline points="1469.0,768.0 1460.0,812.0"/><polyline points="1468.0,768.0 1492.0,768.0"/><polyline points="1490.0,768.0 1481.0,812.0"/><polyline points="1480.0,776.0 1474.0,800.0"/><polyline points="1462.0,812.0 1455.0,820.0"/><polyline points="1478.0,812.0 1486.0,820.0"/><polyline points="1492.0,781.0 1512.0,781.0"/><polyline points="1512.0,764.0 1502.0,818.0 1494.0,818.0"/><polyline points="1504.0,790.0 1490.0,810.0"/><polyline points="1527.0,765.0 1516.0,780.0 1528.0,780.0"/><polyline points="1533.0,774.0 1514.0,800.0 1532.0,797.0"/><polyline points="1513.0,816.0 1534.0,810.0"/><polyline points="1541.0,771.0 1574.0,771.0 1556.0,790.0"/><polyline points="1552.0,780.0 1576.0,795.0"/><polyline points="1540.0,802.0 1572.0,802.0"/><polyline points="1557.0,802.0 1554.0,816.0"/><polyline points="1532.0,816.0 1576.0,816.0"/></g></g><g fill="none" stroke="#fcfdfe" stroke-opacity="0.75" stroke-width="8.5" stroke-linecap="butt" stroke-linejoin="miter"><polyline points="1342.5,772.0 1355.0,772.0"/><polyline points="1338.5,786.5 1350.0,786.5"/><polyline points="1334.0,818.0 1346.0,798.0"/><polyline points="1356.0,771.0 1396.0,771.0"/><polyline points="1356.0,776.0 1350.0,816.0"/><polyline points="1390.0,776.0 1384.0,816.0"/><polyline points="1353.0,779.0 1391.0,779.0"/><polyline points="1339.0,796.0 1399.0,796.0"/><polyline points="1347.0,815.0 1386.0,815.0"/><polyline points="1372.0,784.0 1377.0,792.0"/><polyline points="1404.0,768.0 1452.0,768.0"/><polyline points="1408.0,768.0 1405.0,790.0"/><polyline points="1398.0,790.0 1450.0,790.0"/><polyline points="1448.0,768.0 1440.0,812.0 1432.0,815.0 1418.0,815.0"/><polyline points="1395.0,804.5 1434.0,804.5"/><polyline points="1469.0,768.0 1460.0,812.0"/><polyline points="1468.0,768.0 1492.0,768.0"/><polyline points="1490.0,768.0 1481.0,812.0"/><polyline points="1480.0,776.0 1474.0,800.0"/><polyline points="1462.0,812.0 1455.0,820.0"/><polyline points="1478.0,812.0 1486.0,820.0"/><polyline points="1492.0,781.0 1512.0,781.0"/><polyline points="1512.0,764.0 1502.0,818.0 1494.0,818.0"/><polyline points="1504.0,790.0 1490.0,810.0"/><polyline points="1527.0,765.0 1516.0,780.0 1528.0,780.0"/><polyline points="1533.0,774.0 1514.0,800.0 1532.0,797.0"/><polyline points="1513.0,816.0 1534.0,810.0"/><polyline points="1541.0,771.0 1574.0,771.0 1556.0,790.0"/><polyline points="1552.0,780.0 1576.0,795.0"/><polyline points="1540.0,802.0 1572.0,802.0"/><polyline points="1557.0,802.0 1554.0,816.0"/><polyline points="1532.0,816.0 1576.0,816.0"/></g><text x="1344.2" y="852.4" font-size="30" font-weight="bold" font-style="italic" fill="#6f7580" fill-opacity="0.6" textLength="19.59999999999991" lengthAdjust="spacingAndGlyphs">z</text><text x="1370.3" y="852.4" font-size="30" font-weight="bold" font-style="italic" fill="#6f7580" fill-opacity="0.6" textLength="18.90000000000009" lengthAdjust="spacingAndGlyphs">z</text><text x="1399.8" y="852.4" font-size="30" font-weight="bold" font-style="italic" fill="#6f7580" fill-opacity="0.6" textLength="16.299999999999955" lengthAdjust="spacingAndGlyphs">r</text><text x="1417.8" y="852.4" font-size="30" font-weight="bold" font-style="italic" fill="#6f7580" fill-opacity="0.6" textLength="19.5" lengthAdjust="spacingAndGlyphs">t</text><text x="1443.8999999999999" y="852.4" font-size="30" font-weight="bold" font-style="italic" fill="#6f7580" fill-opacity="0.6" textLength="21.300000000000182" lengthAdjust="spacingAndGlyphs">0</text><text x="1475.0" y="852.4" font-size="30" font-weight="bold" font-style="italic" fill="#6f7580" fill-opacity="0.6" textLength="18.0" lengthAdjust="spacingAndGlyphs">1</text><text x="1502.8" y="852.4" font-size="30" font-weight="bold" font-style="italic" fill="#6f7580" fill-opacity="0.6" textLength="8.200000000000045" lengthAdjust="spacingAndGlyphs">.</text><text x="1520.8" y="852.4" font-size="30" font-weight="bold" font-style="italic" fill="#6f7580" fill-opacity="0.6" textLength="21.200000000000045" lengthAdjust="spacingAndGlyphs">c</text><text x="1547.8" y="852.4" font-size="30" font-weight="bold" font-style="italic" fill="#6f7580" fill-opacity="0.6" textLength="20.5" lengthAdjust="spacingAndGlyphs">n</text><text x="1342.9" y="851.2" font-size="30" font-weight="bold" font-style="italic" fill="#94bfe1" textLength="19.59999999999991" lengthAdjust="spacingAndGlyphs">z</text><text x="1369" y="851.2" font-size="30" font-weight="bold" font-style="italic" fill="#94bfe1" textLength="18.90000000000009" lengthAdjust="spacingAndGlyphs">z</text><text x="1398.5" y="851.2" font-size="30" font-weight="bold" font-style="italic" fill="#94bfe1" textLength="16.299999999999955" lengthAdjust="spacingAndGlyphs">r</text><text x="1416.5" y="851.2" font-size="30" font-weight="bold" font-style="italic" fill="#94bfe1" textLength="19.5" lengthAdjust="spacingAndGlyphs">t</text><text x="1442.6" y="851.2" font-size="30" font-weight="bold" font-style="italic" fill="#94bfe1" textLength="21.300000000000182" lengthAdjust="spacingAndGlyphs">0</text><text x="1473.7" y="851.2" font-size="30" font-weight="bold" font-style="italic" fill="#94bfe1" textLength="18.0" lengthAdjust="spacingAndGlyphs">1</text><text x="1501.5" y="851.2" font-size="30" font-weight="bold" font-style="italic" fill="#94bfe1" textLength="8.200000000000045" lengthAdjust="spacingAndGlyphs">.</text><text x="1519.5" y="851.2" font-size="30" font-weight="bold" font-style="italic" fill="#94bfe1" textLength="21.200000000000045" lengthAdjust="spacingAndGlyphs">c</text><text x="1546.5" y="851.2" font-size="30" font-weight="bold" font-style="italic" fill="#94bfe1" textLength="20.5" lengthAdjust="spacingAndGlyphs">n</text>
</svg></body></html>
